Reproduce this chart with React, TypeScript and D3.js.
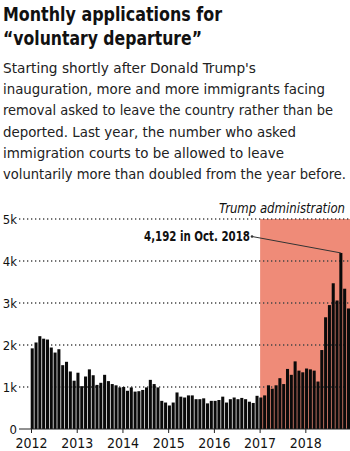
import { useEffect, useRef } from 'react';
import * as d3 from 'd3';

// Monthly voluntary departure applications, Jan 2012 - Dec 2018
const years = [2012, 2013, 2014, 2015, 2016, 2017, 2018];
const apps2012 = [1920, 2060, 2210, 2150, 2130, 1940, 1820, 1900, 1520, 1600, 1370, 1150];
const apps2013 = [1340, 1020, 1250, 1420, 1280, 1050, 1100, 1290, 1140, 1070, 1040, 990];
const apps2014 = [1000, 910, 990, 890, 900, 930, 990, 1170, 1070, 990, 670, 630];
const apps2015 = [560, 630, 870, 770, 750, 800, 800, 710, 710, 730, 610, 670];
const apps2016 = [670, 690, 770, 630, 710, 750, 710, 740, 710, 650, 620, 790];
const apps2017 = [750, 800, 1040, 960, 1040, 1210, 1070, 1430, 1290, 1610, 1390, 1350];
const apps2018 = [1440, 1420, 1390, 1130, 1880, 2660, 2950, 3470, 3060, 4192, 3340, 2870];
const yTicks = [0, 1000, 2000, 3000, 4000, 5000];
const trumpStartYear = 2017;

const titleLines = ['Monthly applications for', '\u201cvoluntary departure\u201d'];
const titleWidths = [219, 199];
const introLines = [
  "Starting shortly after Donald Trump's",
  'inauguration, more and more immigrants facing',
  'removal asked to leave the country rather than be',
  'deported. Last year, the number who asked',
  'immigration courts to be allowed to leave',
  'voluntarily more than doubled from the year before.',
];
const introWidths = [253, 322, 330, 293, 281, 343];

const FONT = '"DejaVu Sans Condensed", "Liberation Sans Narrow", Roboto, sans-serif';

export default function App() {
  const svgRef = useRef<SVGSVGElement>(null);

  useEffect(() => {
    if (!svgRef.current) return;
    const width = 350;
    const height = 451;

    const values = [apps2012, apps2013, apps2014, apps2015, apps2016, apps2017, apps2018].flat();
    const data = values.map((v, i) => ({ i, year: years[Math.floor(i / 12)], month: i % 12, v }));

    const svg = d3.select(svgRef.current);
    svg.selectAll('*').remove();
    svg.attr('width', width).attr('height', height);

    // Header text (squeezed to the widths of the original condensed face)
    svg.append('g')
      .selectAll('text')
      .data(titleLines)
      .enter()
      .append('text')
      .attr('x', 3)
      .attr('y', (d, i) => 21 + i * 24)
      .attr('font-family', FONT)
      .attr('font-weight', 'bold')
      .attr('font-size', '19.5px')
      .attr('textLength', (d, i) => titleWidths[i])
      .attr('lengthAdjust', 'spacingAndGlyphs')
      .attr('fill', '#111')
      .text((d) => d);

    svg.append('g')
      .selectAll('text')
      .data(introLines)
      .enter()
      .append('text')
      .attr('x', 3)
      .attr('y', (d, i) => 73 + i * 21.2)
      .attr('font-family', FONT)
      .attr('font-size', '14.2px')
      .attr('textLength', (d, i) => introWidths[i])
      .attr('lengthAdjust', 'spacingAndGlyphs')
      .attr('fill', '#222')
      .text((d) => d);

    // Scales
    const x = d3
      .scaleBand<number>()
      .domain(data.map((d) => d.i))
      .range([30.7, 350])
      .paddingInner(0.2)
      .paddingOuter(0);

    const y = d3.scaleLinear().domain([0, 5000]).range([429, 219]);

    const yearX = (yr: number) => (x((yr - years[0]) * 12) || 0) + 0.8;

    // Trump administration shading
    svg.append('rect')
      .attr('x', yearX(trumpStartYear))
      .attr('y', y(5000))
      .attr('width', 350 - yearX(trumpStartYear))
      .attr('height', y(0) - y(5000))
      .attr('fill', '#ef8b78');

    // Grid lines
    svg.append('g')
      .selectAll('line')
      .data(yTicks.filter((t) => t > 0))
      .enter()
      .append('line')
      .attr('x1', 19)
      .attr('x2', 350)
      .attr('y1', (d) => y(d))
      .attr('y2', (d) => y(d))
      .attr('stroke', '#444')
      .attr('stroke-width', 1.3)
      .attr('stroke-dasharray', '1.3 2.7');

    // Y labels
    svg.append('g')
      .selectAll('text')
      .data(yTicks)
      .enter()
      .append('text')
      .attr('x', 17)
      .attr('y', (d) => y(d) + 4.5)
      .attr('text-anchor', 'end')
      .attr('font-family', FONT)
      .attr('font-size', '13px')
      .attr('fill', '#111')
      .text((d) => (d === 0 ? '0' : `${d / 1000}k`));

    // Bars
    svg.append('g')
      .selectAll('rect')
      .data(data)
      .enter()
      .append('rect')
      .attr('x', (d) => x(d.i) || 0)
      .attr('y', (d) => y(d.v))
      .attr('width', x.bandwidth())
      .attr('height', (d) => y(0) - y(d.v))
      .attr('fill', '#0a0a0a');

    // Baseline
    svg.append('line')
      .attr('x1', 19)
      .attr('x2', 350)
      .attr('y1', y(0))
      .attr('y2', y(0))
      .attr('stroke', '#222')
      .attr('stroke-width', 1);

    // Year ticks and labels
    const xAxis = svg.append('g');
    xAxis.selectAll('line')
      .data(years)
      .enter()
      .append('line')
      .attr('x1', (d) => yearX(d))
      .attr('x2', (d) => yearX(d))
      .attr('y1', y(0))
      .attr('y2', y(0) + 4)
      .attr('stroke', '#222');
    xAxis.selectAll('text')
      .data(years)
      .enter()
      .append('text')
      .attr('x', (d) => yearX(d))
      .attr('y', 448)
      .attr('text-anchor', 'middle')
      .attr('font-family', FONT)
      .attr('font-size', '14px')
      .attr('fill', '#111')
      .text((d) => d);

    // Trump administration label
    svg.append('text')
      .attr('x', 219)
      .attr('y', 213)
      .attr('font-family', FONT)
      .attr('font-style', 'italic')
      .attr('font-size', '13.5px')
      .attr('textLength', 126)
      .attr('lengthAdjust', 'spacingAndGlyphs')
      .attr('fill', '#111')
      .text('Trump administration');

    // Peak annotation
    const peak = data.reduce((a, b) => (b.v > a.v ? b : a));
    const px = (x(peak.i) || 0) + x.bandwidth() / 2;
    svg.append('line')
      .attr('x1', 252)
      .attr('y1', 236.5)
      .attr('x2', px)
      .attr('y2', y(peak.v))
      .attr('stroke', '#333')
      .attr('stroke-width', 1);
    svg.append('circle')
      .attr('cx', 252)
      .attr('cy', 236.5)
      .attr('r', 1.3)
      .attr('fill', '#333');
    svg.append('text')
      .attr('x', 144)
      .attr('y', 241)
      .attr('font-family', FONT)
      .attr('font-weight', 'bold')
      .attr('font-size', '13.5px')
      .attr('textLength', 106)
      .attr('lengthAdjust', 'spacingAndGlyphs')
      .attr('fill', '#111')
      .text(`${d3.format(',')(peak.v)} in Oct. ${peak.year}`);
  }, []);

  return (
    <svg
      ref={svgRef}
      style={{ position: 'absolute', left: 0, top: 0, background: '#fff' }}
    />
  );
}
